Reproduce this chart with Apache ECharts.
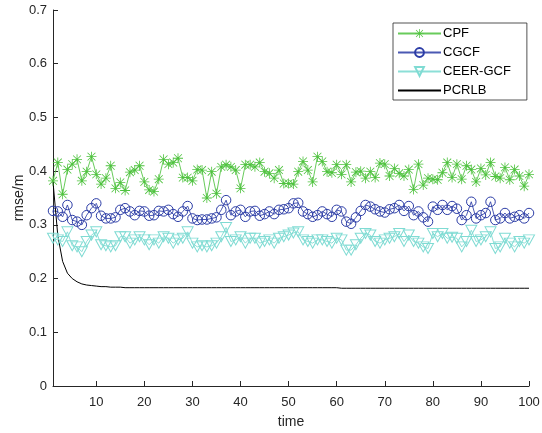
<!DOCTYPE html>
<html>
<head>
<meta charset="utf-8">
<script src="https://cdn.jsdelivr.net/npm/echarts@6/dist/echarts.min.js"></script>
<style>html,body{margin:0;padding:0;background:#fff}#c{width:542px;height:433px}</style>
</head>
<body>
<div id="c"></div>
<script>
const xTicks = [10,20,30,40,50,60,70,80,90,100];
const seriesNames = ['CPF','CGCF','CEER-GCF','PCRLB'];
const cpf = [0.382,0.416,0.357,0.403,0.413,0.422,0.382,0.399,0.427,0.394,
0.376,0.387,0.410,0.368,0.379,0.364,0.398,0.402,0.410,0.380,
0.365,0.362,0.385,0.422,0.413,0.416,0.424,0.388,0.388,0.382,
0.403,0.402,0.350,0.399,0.358,0.408,0.412,0.408,0.402,0.368,
0.412,0.412,0.408,0.416,0.399,0.396,0.387,0.402,0.377,0.377,
0.376,0.399,0.418,0.402,0.380,0.427,0.418,0.399,0.397,0.412,
0.394,0.412,0.380,0.398,0.400,0.387,0.399,0.388,0.415,0.413,
0.391,0.405,0.396,0.391,0.403,0.366,0.413,0.374,0.387,0.385,
0.384,0.397,0.416,0.388,0.413,0.385,0.410,0.403,0.380,0.405,
0.393,0.416,0.390,0.387,0.407,0.384,0.403,0.391,0.372,0.394];
const cgcf = [0.326,0.325,0.315,0.337,0.309,0.306,0.300,0.318,0.331,0.340,
0.317,0.312,0.312,0.314,0.328,0.331,0.325,0.318,0.326,0.325,
0.317,0.318,0.326,0.325,0.328,0.320,0.315,0.325,0.335,0.312,
0.309,0.310,0.310,0.312,0.314,0.328,0.346,0.318,0.325,0.328,
0.315,0.325,0.326,0.317,0.320,0.325,0.320,0.328,0.329,0.331,
0.340,0.341,0.325,0.320,0.315,0.318,0.325,0.320,0.315,0.328,
0.325,0.306,0.302,0.314,0.326,0.337,0.334,0.329,0.325,0.323,
0.329,0.331,0.337,0.326,0.335,0.318,0.325,0.314,0.306,0.334,
0.328,0.337,0.328,0.335,0.330,0.309,0.318,0.343,0.312,0.318,
0.322,0.343,0.309,0.312,0.322,0.312,0.315,0.318,0.312,0.322];
const ceer = [0.275,0.272,0.269,0.287,0.261,0.259,0.250,0.269,0.281,0.287,
0.263,0.261,0.259,0.261,0.278,0.278,0.266,0.272,0.278,0.272,
0.263,0.272,0.266,0.278,0.275,0.266,0.272,0.275,0.287,0.266,
0.259,0.261,0.259,0.261,0.266,0.278,0.295,0.269,0.272,0.278,
0.266,0.275,0.275,0.266,0.269,0.272,0.266,0.275,0.278,0.281,
0.285,0.287,0.272,0.269,0.266,0.272,0.272,0.269,0.266,0.275,
0.272,0.253,0.253,0.263,0.275,0.284,0.281,0.269,0.266,0.272,
0.275,0.278,0.284,0.269,0.281,0.269,0.266,0.259,0.256,0.284,
0.278,0.284,0.275,0.277,0.275,0.259,0.269,0.290,0.269,0.272,
0.278,0.287,0.256,0.259,0.275,0.266,0.259,0.269,0.266,0.272];
const pcrlb = [0.380,0.280,0.232,0.210,0.200,0.194,0.190,0.188,0.187,0.186,
0.185,0.185,0.184,0.184,0.184,0.183,0.183,0.183,0.183,0.183,
0.183,0.183,0.183,0.183,0.183,0.183,0.183,0.183,0.183,0.183,
0.183,0.183,0.183,0.183,0.183,0.183,0.183,0.183,0.183,0.183,
0.183,0.183,0.183,0.183,0.183,0.183,0.183,0.183,0.183,0.183,
0.183,0.183,0.183,0.183,0.183,0.183,0.183,0.183,0.183,0.183,
0.182,0.182,0.182,0.182,0.182,0.182,0.182,0.182,0.182,0.182,
0.182,0.182,0.182,0.182,0.182,0.182,0.182,0.182,0.182,0.182,
0.182,0.182,0.182,0.182,0.182,0.182,0.182,0.182,0.182,0.182,
0.182,0.182,0.182,0.182,0.182,0.182,0.182,0.182,0.182,0.182];

function pairs(arr){ return arr.map((v,i)=>[i+1,v]); }

const FONT = '"Liberation Sans", Arial, Helvetica, sans-serif';
const star = 'path://M0 9.2H20V10.8H0Z M9.2 0H10.8V20H9.2Z M1.6 2.7L2.7 1.6L18.4 17.3L17.3 18.4Z M17.3 1.6L18.4 2.7L2.7 18.4L1.6 17.3Z';
const GREEN = '#4ec23e', BLUE = '#2b3ca6', CYAN = '#7fdbd3';

const chart = echarts.init(document.getElementById('c'), null, {renderer:'canvas'});
chart.setOption({
  animation: false,
  backgroundColor: '#fff',
  textStyle: {fontFamily: FONT},
  grid: {left: 53, right: 13, top: 10, bottom: 47, containLabel: false, outerBoundsMode: 'none'},
  legend: {
    orient: 'vertical', left: 393, top: 23,
    padding: [4, 16, 3, 4], itemGap: 6,
    itemWidth: 43, itemHeight: 11,
    borderColor: '#262626', borderWidth: 0.8, backgroundColor: '#fff',
    textStyle: {fontFamily: FONT, fontSize: 13, color: '#000', padding: [0,0,0,-3]},
    data: seriesNames
  },
  xAxis: {
    type: 'value', min: 1, max: 100,
    name: 'time', nameLocation: 'middle', nameGap: 29,
    nameTextStyle: {fontFamily: FONT, fontSize: 14, color: '#262626'},
    axisLine: {lineStyle: {color: '#262626', width: 1}},
    axisTick: {inside: true, length: 5, customValues: xTicks, lineStyle: {color: '#262626'}},
    axisLabel: {customValues: xTicks, margin: 10, fontSize: 13, color: '#262626', fontFamily: FONT},
    splitLine: {show: false}
  },
  yAxis: {
    type: 'value', min: 0, max: 0.7, interval: 0.1,
    name: 'rmse/m', nameLocation: 'middle', nameGap: 27, nameRotate: 90, nameMoveOverlap: false,
    nameTextStyle: {fontFamily: FONT, fontSize: 14, color: '#262626'},
    axisLine: {show: true, lineStyle: {color: '#262626', width: 1}},
    axisTick: {show: true, inside: true, length: 5, lineStyle: {color: '#262626'}},
    axisLabel: {margin: 6, fontSize: 13, color: '#262626', fontFamily: FONT,
      formatter: v => (Math.round(v*10)/10).toString()},
    splitLine: {show: false}
  },
  series: [
    {name: 'CPF', type: 'line', data: pairs(cpf), symbol: star, symbolSize: 10,
     lineStyle: {color: GREEN, width: 1, opacity: 0.85},
     itemStyle: {color: GREEN}, color: GREEN},
    {name: 'CGCF', type: 'line', data: pairs(cgcf), symbol: 'circle', symbolSize: 9.5,
     lineStyle: {color: BLUE, width: 1, opacity: 0.85},
     itemStyle: {color: 'rgba(255,255,255,0)', borderColor: BLUE, borderWidth: 1}, color: BLUE},
    {name: 'CEER-GCF', type: 'line', data: pairs(ceer), symbol: 'triangle', symbolRotate: 180, symbolSize: [11, 10],
     lineStyle: {color: CYAN, width: 1, opacity: 0.9},
     itemStyle: {color: 'rgba(255,255,255,0)', borderColor: CYAN, borderWidth: 1}, color: CYAN},
    {name: 'PCRLB', type: 'line', data: pairs(pcrlb), symbol: 'none',
     lineStyle: {color: '#000', width: 1},
     itemStyle: {color: 'rgba(0,0,0,0)', borderColor: 'rgba(0,0,0,0)', borderWidth: 0}}
  ]
});
</script>
</body>
</html>
